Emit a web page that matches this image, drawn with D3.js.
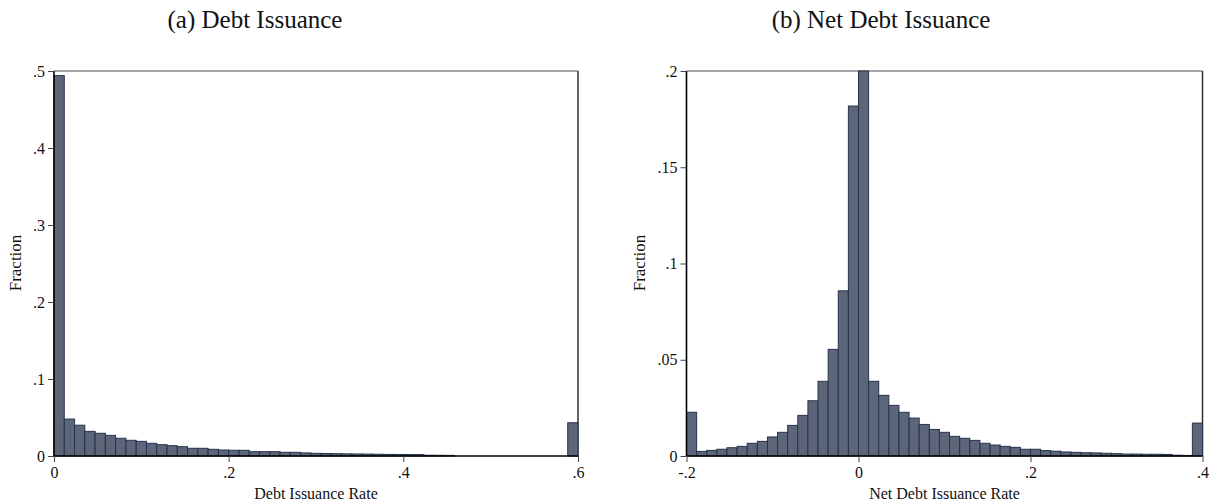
<!DOCTYPE html>
<html>
<head>
<meta charset="utf-8">
<script src="https://cdn.jsdelivr.net/npm/d3@7"></script>
<style>
  body { margin: 0; background: #fff; }
  text { font-family: "Liberation Serif", "DejaVu Serif", serif; fill: #111; }
</style>
</head>
<body>
<div id="chart"></div>
<script>
// histogram values (fraction per bin), 51 equal bins per panel
var debtRange = [0, 0.6];
var debtTicks = [0, 0.2, 0.4, 0.6];
var debtYTicks = [0, 0.1, 0.2, 0.3, 0.4, 0.5];
var debtFraction = [0.494, 0.048, 0.040, 0.032, 0.0295, 0.0268, 0.023, 0.0204, 0.019, 0.0165,
  0.0147, 0.0134, 0.0121, 0.010, 0.010, 0.0087, 0.0078, 0.0074, 0.0074, 0.0056,
  0.0056, 0.0056, 0.0048, 0.0048, 0.0040, 0.0035, 0.0032, 0.0030, 0.0028, 0.0026,
  0.0025, 0.0023, 0.0021, 0.0020, 0.0019, 0.0018, 0.0010, 0.0009, 0.0008, 0,
  0, 0, 0, 0, 0, 0, 0, 0, 0, 0, 0.0432];

var netRange = [-0.2, 0.4];
var netTicks = [-0.2, 0, 0.2, 0.4];
var netYTicks = [0, 0.05, 0.1, 0.15, 0.2];
var netFraction = [0.0227, 0.0024, 0.0029, 0.0035, 0.0043, 0.0050, 0.0066, 0.0076, 0.0099, 0.0123,
  0.0159, 0.0211, 0.0287, 0.0388, 0.0554, 0.0858, 0.1818, 0.2, 0.0388, 0.0315,
  0.0263, 0.0227, 0.0197, 0.0164, 0.0138, 0.0123, 0.0102, 0.0092, 0.0081, 0.0066,
  0.0057, 0.0050, 0.0045, 0.0035, 0.0035, 0.0028, 0.0025, 0.0021, 0.0019, 0.0017,
  0.0016, 0.0014, 0.0012, 0.0010, 0.0010, 0.0009, 0.0009, 0.0008, 0.0004, 0.0003, 0.0171];

var svg = d3.select("#chart")
  .append("svg")
  .attr("width", 1213)
  .attr("height", 503);

// format like stata: .5, -.2, 0
var fmt = (v) => {
  if (v == 0) return "0";
  var s = String(+v.toFixed(3));
  return s.replace("0.", ".");
};

var drawPanel = (opt) => {
  var g = svg.append("g");
  var x = d3.scaleLinear().domain(opt.range).range([opt.left, opt.right]);
  var y = d3.scaleLinear().domain([0, opt.ymax]).range([456, 71]);
  var n = opt.values.length;
  var w = (opt.range[1] - opt.range[0]) / n;

  // frame top and right
  g.append("line").attr("x1", opt.left).attr("x2", opt.right)
    .attr("y1", y(opt.ymax)).attr("y2", y(opt.ymax))
    .attr("stroke", "#8a8a8a").attr("stroke-width", 1.5);
  g.append("line").attr("x1", opt.right).attr("x2", opt.right)
    .attr("y1", y(opt.ymax)).attr("y2", y(0))
    .attr("stroke", "#333").attr("stroke-width", 1.5);

  // bars
  g.selectAll("rect.bar")
    .data(opt.values.map((v, i) => ({ i: i, v: v })).filter(d => d.v > 0))
    .join("rect")
    .attr("class", "bar")
    .attr("x", d => x(opt.range[0] + d.i * w))
    .attr("width", d => x(opt.range[0] + (d.i + 1) * w) - x(opt.range[0] + d.i * w))
    .attr("y", d => y(d.v))
    .attr("height", d => y(0) - y(d.v))
    .attr("fill", "#5d6579")
    .attr("stroke", "#26324d")
    .attr("stroke-width", 1);

  // axes
  var xa = g.append("g")
    .attr("transform", "translate(0,456)")
    .call(d3.axisBottom(x).tickValues(opt.xticks).tickFormat(fmt).tickSize(6).tickPadding(5));
  var ya = g.append("g")
    .attr("transform", "translate(" + opt.left + ",0)")
    .call(d3.axisLeft(y).tickValues(opt.yticks).tickFormat(fmt).tickSize(6).tickPadding(3));
  [xa, ya].forEach(a => {
    a.select(".domain").attr("stroke", "#000").attr("stroke-width", 1.6);
    a.selectAll(".tick line").attr("stroke", "#444").attr("stroke-width", 1);
    a.selectAll(".tick text").style("font-size", "16px")
      .style("font-family", "'Liberation Serif', serif").attr("fill", "#111");
  });
  xa.select(".domain").attr("d", "M" + opt.left + ",0H" + opt.right);
  ya.select(".domain").attr("d", "M0," + y(0) + "V" + y(opt.ymax));

  // labels
  g.append("text")
    .attr("x", (opt.left + opt.right) / 2).attr("y", 499)
    .attr("text-anchor", "middle").style("font-size", "16px")
    .text(opt.xlabel);
  g.append("text")
    .attr("transform", "translate(" + opt.ylabelX + ",263)rotate(-90)")
    .attr("text-anchor", "middle").style("font-size", "17px")
    .text("Fraction");
  g.append("text")
    .attr("x", opt.titleX).attr("y", 28)
    .attr("text-anchor", "middle").style("font-size", "25px")
    .text(opt.title);
};

drawPanel({ range: debtRange, values: debtFraction, xticks: debtTicks, yticks: debtYTicks,
  ymax: 0.5, left: 54, right: 578, xlabel: "Debt Issuance Rate", ylabelX: 21,
  title: "(a) Debt Issuance", titleX: 255 });
drawPanel({ range: netRange, values: netFraction, xticks: netTicks, yticks: netYTicks,
  ymax: 0.2, left: 686.5, right: 1202.5, xlabel: "Net Debt Issuance Rate", ylabelX: 645,
  title: "(b) Net Debt Issuance", titleX: 881 });
</script>
</body>
</html>
